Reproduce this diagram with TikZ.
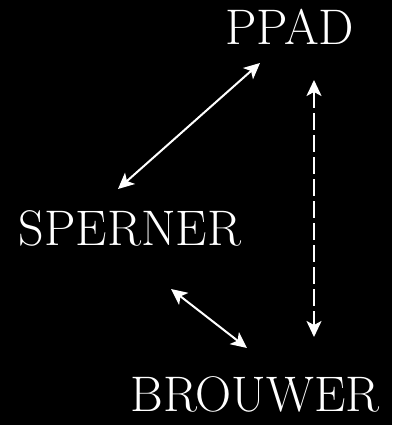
\documentclass[tikz,border=0pt]{standalone}
\usetikzlibrary{arrows.meta}
\begin{document}
\begin{tikzpicture}[x=1pt,y=1pt,
  lbl/.style={text=white, inner sep=0pt, anchor=base, font=\fontsize{50}{60}\selectfont},
  conn/.style={draw=white, line width=2pt, {Stealth[length=16pt,width=15pt,inset=4pt]}-{Stealth[length=16pt,width=15pt,inset=4pt]}},
  dashconn/.style={conn, dash pattern=on 17pt off 5pt}]
\fill[black] (0,0) rectangle (392,425);
\useasboundingbox (0,0) rectangle (392,425);
\node[lbl] (ppad) at (289.5,380) {PPAD};
\node[lbl] (sperner) at (130,179) {SPERNER};
\node[lbl] (brouwer) at (255,13) {BROUWER};
\coordinate (a1) at (118,236);
\coordinate (a2) at (260,362);
\coordinate (b1) at (171,136);
\coordinate (b2) at (247,77);
\coordinate (c1) at (314,345);
\coordinate (c2) at (314,88);
\draw[conn] (a1) -- (a2);
\draw[conn] (b1) -- (b2);
\draw[dashconn] (c1) -- (c2);
\end{tikzpicture}
\end{document}
